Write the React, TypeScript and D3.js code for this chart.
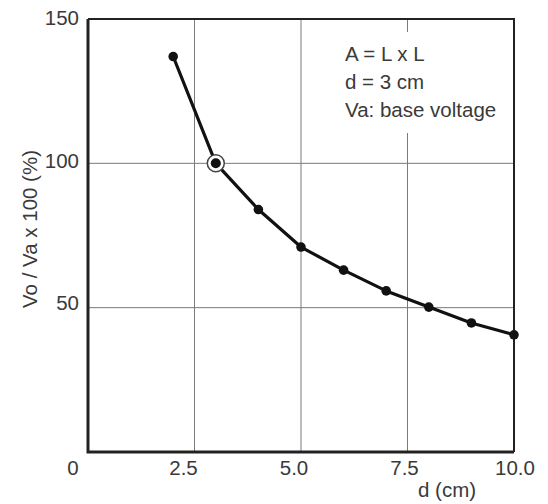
import React, { useRef, useEffect } from 'react';
import * as d3 from 'd3';

// datos
const dValues: number[] = [2, 3, 4, 5, 6, 7, 8, 9, 10];
const ratioValues: number[] = [137, 100, 84, 71, 63, 55.8, 50.2, 44.7, 40.6];
const baseIndex = 1; // punto de referencia (d = 3 cm)

const xTicks: number[] = [2.5, 5.0, 7.5, 10.0];
const xTickLabels: string[] = ['2.5', '5.0', '7.5', '10.0'];
const yTicks: number[] = [50, 100, 150];
const yTickLabels: string[] = ['50', '100', '150'];
const notes: string[] = ['A = L x L', 'd = 3 cm', 'Va: base voltage'];

const FONT = 'Liberation Sans, Arial, sans-serif';
const TEXT = '#3a3a3a';

const plot = (svgRef: React.RefObject<SVGSVGElement | null>) => {
  const svgEl = d3.select(svgRef.current);
  svgEl.selectAll('*').remove();

  const width = 548;
  const height = 504;
  const margin = { left: 88, right: 34, top: 19, bottom: 52 };

  const svg = svgEl.append('g');

  const xScale = d3.scaleLinear()
    .domain([0, 10])
    .range([margin.left, width - margin.right]);

  const yScale = d3.scaleLinear()
    .domain([0, 150])
    .range([height - margin.bottom, margin.top]);

  // las etiquetas del original no caen exactamente sobre la rejilla
  const xLabelScale = d3.scaleLinear().domain([0, 10]).range([73, 515]);
  const yLabelScale = d3.scaleLinear().domain([50, 150]).range([303, 18]);

  // rejilla
  svg.append('g')
    .selectAll('line.vx')
    .data(xTicks.slice(0, -1))
    .join('line')
    .attr('x1', d => xScale(d)).attr('x2', d => xScale(d))
    .attr('y1', yScale(0)).attr('y2', yScale(150))
    .attr('stroke', '#7a7a7a')
    .attr('stroke-width', 1);

  svg.append('g')
    .selectAll('line.hy')
    .data(yTicks.slice(0, -1))
    .join('line')
    .attr('x1', xScale(0)).attr('x2', xScale(10))
    .attr('y1', d => yScale(d)).attr('y2', d => yScale(d))
    .attr('stroke', '#7a7a7a')
    .attr('stroke-width', 1);

  // caja de notas (fondo blanco que corta la rejilla)
  svg.append('rect')
    .attr('x', 338).attr('y', 32)
    .attr('width', 170).attr('height', 101)
    .attr('fill', 'white');

  svg.append('g')
    .selectAll('text')
    .data(notes)
    .join('text')
    .attr('x', 345)
    .attr('y', (d, i) => 61 + i * 28)
    .attr('font-family', FONT)
    .attr('font-size', 20.5)
    .attr('fill', TEXT)
    .text(d => d);

  // marco
  svg.append('path')
    .attr('d', `M${xScale(0)},${yScale(150)} H${xScale(10)} V${yScale(0)}`)
    .attr('fill', 'none')
    .attr('stroke', '#222')
    .attr('stroke-width', 2);
  svg.append('path')
    .attr('d', `M${xScale(0)},${yScale(150)} V${yScale(0)} H${xScale(10)}`)
    .attr('fill', 'none')
    .attr('stroke', '#222')
    .attr('stroke-width', 3);

  // etiquetas de ejes
  svg.append('g')
    .selectAll('text')
    .data(yTicks)
    .join('text')
    .attr('x', 79)
    .attr('y', d => yLabelScale(d) + 7)
    .attr('text-anchor', 'end')
    .attr('font-family', FONT)
    .attr('font-size', 20.5)
    .attr('fill', TEXT)
    .text((d, i) => yTickLabels[i]);

  svg.append('g')
    .selectAll('text')
    .data([0, ...xTicks])
    .join('text')
    .attr('x', d => xLabelScale(d))
    .attr('y', 475)
    .attr('text-anchor', 'middle')
    .attr('font-family', FONT)
    .attr('font-size', 20.5)
    .attr('fill', TEXT)
    .text((d, i) => (i === 0 ? '0' : xTickLabels[i - 1]));

  svg.append('text')
    .attr('x', 447).attr('y', 497)
    .attr('text-anchor', 'middle')
    .attr('font-family', FONT)
    .attr('font-size', 20.5)
    .attr('fill', TEXT)
    .text('d (cm)');

  svg.append('text')
    .attr('transform', 'translate(37, 229) rotate(-90)')
    .attr('text-anchor', 'middle')
    .attr('font-family', FONT)
    .attr('font-size', 20.5)
    .attr('fill', TEXT)
    .text('Vo / Va x 100 (%)');

  // curva (segmentos rectos)
  const pts = dValues.map((d, i) => [d, ratioValues[i]] as [number, number]);

  svg.append('path')
    .datum(pts)
    .attr('fill', 'none')
    .attr('stroke', '#111')
    .attr('stroke-width', 3.2)
    .attr('stroke-linejoin', 'round')
    .attr('d', d3.line<[number, number]>()
      .x(d => xScale(d[0]))
      .y(d => yScale(d[1]))
    );

  // anillo del punto base
  svg.append('circle')
    .attr('cx', xScale(pts[baseIndex][0]))
    .attr('cy', yScale(pts[baseIndex][1]))
    .attr('r', 8.5)
    .attr('fill', 'white')
    .attr('stroke', '#444')
    .attr('stroke-width', 1.5);

  svg.append('g')
    .selectAll('circle')
    .data(pts)
    .join('circle')
    .attr('cx', d => xScale(d[0]))
    .attr('cy', d => yScale(d[1]))
    .attr('r', (d, i) => (i === baseIndex ? 5 : 4.8))
    .attr('fill', '#111');
};

export default function App() {
  const svgRef = useRef<SVGSVGElement | null>(null);

  useEffect(() => {
    document.body.style.margin = '0';
    plot(svgRef);
  }, []);

  return (
    <svg ref={svgRef} width={548} height={504} style={{ display: 'block', background: 'white' }} />
  );
}
